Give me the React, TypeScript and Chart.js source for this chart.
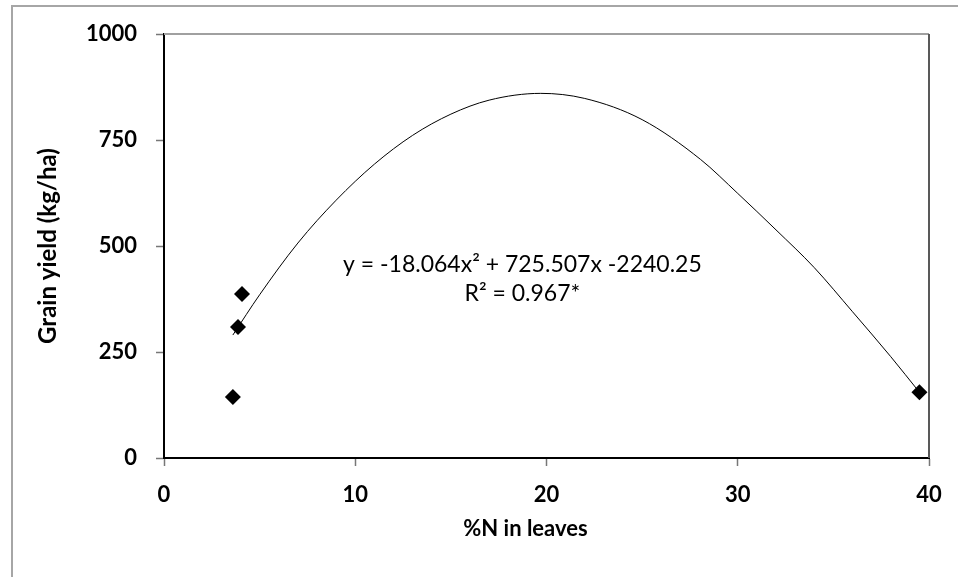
import React, { useEffect, useRef } from "react";
import { Chart, registerables } from "chart.js";

Chart.register(...registerables);

// Measured points
const pointX = [3.6, 3.87, 4.08, 39.5];
const pointY = [144, 309, 387, 155];

// Trend line as drawn in the picture
const trendX = [3.6, 5, 7, 9, 11, 13, 15, 17, 19.7, 22, 25, 28.06, 30, 32, 34, 36, 38, 39.5];
const trendY = [290, 385, 507, 608, 693, 761, 811, 844, 860, 848, 798, 704, 624, 538, 449, 345, 239, 155];

const xTicks = [0, 10, 20, 30, 40];
const yTicks = [0, 250, 500, 750, 1000];

const equationLines = ["y = -18.064x\u00B2 + 725.507x -2240.25", "R\u00B2 = 0.967*"];
const equationAnchorX = 18.74;
const equationAnchorY = [457, 387];

const xTitle = "%N in leaves";
const xTitleAnchor = 18.9;
const yTitle = "Grain yield (kg/ha)";

const FONT = "Lato, 'Open Sans', sans-serif";

const decorPlugin = {
  id: "decor",
  afterDraw(chart: any) {
    const { ctx, chartArea, scales } = chart;
    ctx.save();
    // outer frame (top and left visible)
    ctx.strokeStyle = "#a6a6a6";
    ctx.lineWidth = 2;
    ctx.beginPath();
    ctx.moveTo(12, 577);
    ctx.lineTo(12, 6);
    ctx.lineTo(958, 6);
    ctx.stroke();
    // plot area border top / right
    ctx.strokeStyle = "#a0a0a0";
    ctx.lineWidth = 2;
    ctx.beginPath();
    ctx.moveTo(chartArea.left, chartArea.top);
    ctx.lineTo(chartArea.right, chartArea.top);
    ctx.stroke();
    ctx.strokeStyle = "#595959";
    ctx.beginPath();
    ctx.moveTo(chartArea.right, chartArea.top);
    ctx.lineTo(chartArea.right, chartArea.bottom);
    ctx.stroke();
    // equation text
    ctx.fillStyle = "#000";
    ctx.font = `23px ${FONT}`;
    ctx.textAlign = "center";
    ctx.textBaseline = "middle";
    const px = scales.x.getPixelForValue(equationAnchorX);
    equationLines.forEach((t, i) => {
      ctx.fillText(t, px, scales.y.getPixelForValue(equationAnchorY[i]));
    });
    // x axis title
    ctx.font = `bold 22px ${FONT}`;
    ctx.fillText(xTitle, scales.x.getPixelForValue(xTitleAnchor), 529);
    ctx.restore();
  },
};

export default function App() {
  const ref = useRef<HTMLCanvasElement | null>(null);
  useEffect(() => {
    document.body.style.margin = "0";
    if (!ref.current) return;
    const chart = new Chart(ref.current, {
      type: "scatter",
      data: {
        datasets: [
          {
            label: "trend",
            data: trendX.map((x, i) => ({ x, y: trendY[i] })),
            showLine: true,
            borderColor: "#000",
            borderWidth: 1,
            pointRadius: 0,
            cubicInterpolationMode: "monotone",
            fill: false,
          },
          {
            label: "points",
            data: pointX.map((x, i) => ({ x, y: pointY[i] })),
            showLine: false,
            pointStyle: "rectRot",
            pointRadius: 8,
            backgroundColor: "#000",
            borderColor: "#000",
            borderWidth: 0,
          },
        ],
      },
      options: {
        responsive: false,
        animation: false,
        events: [],
        layout: { padding: { left: 0, top: 34, right: 29, bottom: 0 } },
        plugins: { legend: { display: false }, tooltip: { enabled: false } },
        scales: {
          x: {
            type: "linear",
            min: 0,
            max: 40,
            afterBuildTicks: (s: any) => {
              s.ticks = xTicks.map((v) => ({ value: v }));
            },
            afterFit: (s: any) => {
              s.height = 119;
            },
            grid: {
              drawOnChartArea: false,
              drawTicks: true,
              tickLength: 8,
              tickColor: "#777",
              tickWidth: 1.5,
            },
            border: { color: "#000", width: 2 },
            ticks: {
              color: "#000",
              padding: 16,
              font: { family: FONT, size: 22, weight: "bold" },
              callback: (v: any) => String(v),
            },
            title: { display: false },
          },
          y: {
            type: "linear",
            min: 0,
            max: 1000,
            afterBuildTicks: (s: any) => {
              s.ticks = yTicks.map((v) => ({ value: v }));
            },
            afterFit: (s: any) => {
              s.width = 164;
            },
            grid: {
              drawOnChartArea: false,
              drawTicks: true,
              tickLength: 8,
              tickColor: "#777",
              tickWidth: 1.5,
            },
            border: { color: "#000", width: 2 },
            ticks: {
              color: "#000",
              padding: 19,
              font: { family: FONT, size: 22, weight: "bold" },
              callback: (v: any) => String(v),
            },
            title: {
              display: true,
              text: yTitle,
              color: "#000",
              font: { family: FONT, size: 24, weight: "bold" },
              padding: { top: 34, bottom: 0 },
            },
          },
        },
      },
      plugins: [decorPlugin],
    } as any);
    return () => chart.destroy();
  }, []);
  return (
    <div style={{ width: 958, height: 577, background: "#fff" }}>
      <canvas ref={ref} width={958} height={577} style={{ display: "block" }} />
    </div>
  );
}
